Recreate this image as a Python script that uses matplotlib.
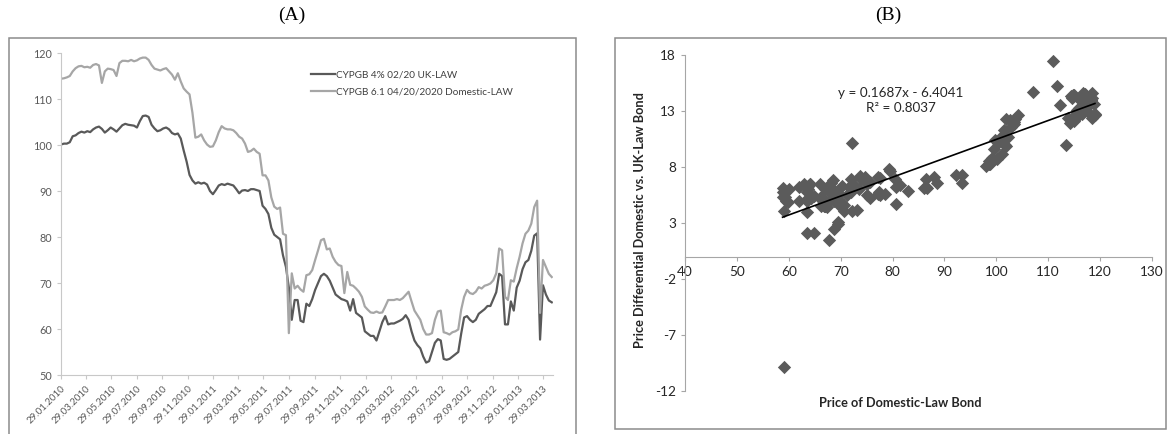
"""
Cyprus government bonds: UK-law vs domestic-law prices (A)
and the price differential against the domestic-law price (B).
"""

import matplotlib.pyplot as plt
import matplotlib.dates as mdates
import numpy as np
import pandas as pd
from matplotlib.patches import Rectangle

plt.rcParams["font.family"] = ["Lato", "DejaVu Sans"]
plt.rcParams["axes.unicode_minus"] = False

# weekly observations (Fridays), first one 29.01.2010
start_date = "2010-01-29"

uk_law = [
    100.1, 100.3, 100.3, 100.6, 101.9, 102.1, 102.6, 102.9, 102.7, 103.0,
    102.8, 103.4, 103.8, 104.0, 103.5, 102.7, 103.2, 103.8, 103.4, 102.9,
    103.6, 104.3, 104.6, 104.4, 104.3, 104.2, 103.8, 105.2, 106.3, 106.4,
    106.1, 104.4, 103.6, 103.0, 103.2, 103.6, 103.8, 103.4, 102.6, 102.3,
    102.5, 101.4, 98.8, 96.4, 93.5, 92.3, 91.6, 91.9, 91.6, 91.8,
    91.4, 90.0, 89.3, 90.2, 91.2, 91.5, 91.3, 91.6, 91.4, 91.2,
    90.4, 89.5, 90.1, 90.2, 90.0, 90.4, 90.4, 90.2, 90.0, 86.8,
    86.1, 85.0, 82.0, 80.5, 80.0, 79.5, 76.0, 73.5, 69.0, 62.0,
    66.3, 66.3, 61.8, 61.5, 65.5, 65.0, 66.5, 68.5, 70.0, 71.5,
    72.0, 71.5, 70.5, 69.0, 67.5, 67.0, 66.5, 66.3, 66.0, 64.0,
    66.5, 63.5, 63.0, 62.5, 59.5, 59.0, 58.5, 58.5, 57.5, 59.5,
    61.5, 62.8, 61.0, 61.2, 61.2, 61.5, 61.8, 62.2, 63.0, 62.0,
    59.5, 57.5, 56.5, 55.8, 54.0, 52.7, 53.0, 55.0, 57.0, 57.8,
    57.5, 53.5, 53.3, 53.5, 54.0, 54.5, 55.0, 59.0, 62.5, 62.8,
    62.0, 61.5, 62.0, 63.3, 63.8, 64.3, 65.0, 65.0, 66.5, 68.0,
    72.0, 71.5, 61.0, 61.0, 66.0, 64.0, 69.0, 70.5, 73.0, 74.5,
    75.0, 77.0, 80.3, 80.8, 57.7, 69.5, 67.5, 66.2, 65.8,
]

domestic_law = [
    114.4, 114.5, 114.7, 115.0, 116.0, 116.7, 117.1, 117.2, 116.9, 117.0,
    116.8, 117.4, 117.6, 117.3, 113.5, 116.0, 116.6, 116.5, 116.3, 115.0,
    117.8, 118.3, 118.3, 118.2, 118.5, 118.2, 118.4, 118.8, 119.0, 119.0,
    118.5, 117.4, 116.6, 116.4, 116.2, 116.5, 116.7, 116.0, 115.3, 114.2,
    115.6, 113.8, 112.3, 111.6, 111.0, 107.0, 101.6, 101.8, 102.3, 101.0,
    100.1, 99.6, 99.7, 101.0, 102.8, 104.1, 103.6, 103.4, 103.4, 103.2,
    102.6, 101.8, 101.4, 100.3, 98.5, 98.7, 99.2, 98.5, 98.1, 93.4,
    93.4, 92.3, 88.6, 86.6, 86.1, 86.4, 80.7, 80.4, 59.1, 72.1,
    68.8, 69.4, 68.6, 68.1, 71.7, 71.9, 72.8, 75.0, 77.1, 79.3,
    79.6, 77.3, 77.5, 75.7, 74.6, 73.9, 73.7, 67.8, 72.4, 69.6,
    69.4, 68.8, 68.1, 67.0, 64.9, 64.2, 63.6, 63.5, 63.8, 63.5,
    63.6, 64.9, 66.3, 66.3, 66.3, 66.5, 66.3, 66.7, 67.4, 68.1,
    66.0, 64.0, 63.0, 62.0, 60.0, 58.8, 58.8, 59.1, 62.0, 63.8,
    64.0, 59.3, 59.1, 58.8, 59.3, 59.5, 59.9, 64.2, 67.0, 68.5,
    67.8, 67.6, 68.1, 69.1, 68.8, 69.4, 69.6, 69.9, 70.6, 72.1,
    77.5, 77.1, 67.0, 66.3, 70.6, 70.3, 73.2, 75.7, 78.6, 80.7,
    81.4, 82.9, 86.5, 87.9, 63.5, 75.0, 73.5, 72.0, 71.3,
]

uk_label = "CYPGB 4% 02/20 UK-LAW"
domestic_label = "CYPGB 6.1 04/20/2020 Domestic-LAW"

# trend line reported on panel B
slope = 0.1687
intercept = -6.4041
r_squared = 0.8037

W, H = 1168, 434


def px_rect(fig, x0, y0, x1, y1):
    """Frame drawn in figure pixels (origin top-left)."""
    fig.patches.append(
        Rectangle((x0 / W, 1 - y1 / H), (x1 - x0) / W, (y1 - y0) / H,
                  transform=fig.transFigure, fill=False,
                  edgecolor="#8c8c8c", linewidth=1.1)
    )


fig = plt.figure(figsize=(W / 100, H / 100), dpi=100)

px_rect(fig, 9, 38, 576, 445)
px_rect(fig, 615, 38, 1166, 429)

fig.text(292 / W, 1 - 15 / H, "(A)", ha="center", va="center",
         family="Liberation Serif", fontsize=14)
fig.text(888 / W, 1 - 15 / H, "(B)", ha="center", va="center",
         family="Liberation Serif", fontsize=14)

# ---- panel A: price history
dates = pd.date_range(start_date, periods=len(uk_law), freq="7D")

ax1 = fig.add_axes([61 / W, 1 - 375 / H, (553 - 61) / W, (375 - 53) / H])
ax1.plot(dates, uk_law, color="#595959", linewidth=1.6, label=uk_label)
ax1.plot(dates, domestic_law, color="#a6a6a6", linewidth=1.6,
         label=domestic_label)

ax1.set_ylim(50, 120)
ax1.set_yticks(np.arange(50, 121, 10))
ax1.set_xlim(pd.Timestamp("2010-01-29"), pd.Timestamp("2013-04-22"))
ax1.xaxis.set_major_locator(mdates.MonthLocator(bymonth=[1, 3, 5, 7, 9, 11],
                                                bymonthday=29))
ax1.xaxis.set_major_formatter(mdates.DateFormatter("%d.%m.%Y"))
plt.setp(ax1.get_xticklabels(), rotation=45, ha="right",
         rotation_mode="anchor")
ax1.tick_params(axis="x", labelsize=7, colors="#595959", length=3, width=0.8)
ax1.tick_params(axis="y", labelsize=7.8, colors="#595959", length=3,
                width=0.8)
ax1.tick_params(axis="both", color="#c8c8c8")
for side in ("top", "right"):
    ax1.spines[side].set_visible(False)
for side in ("left", "bottom"):
    ax1.spines[side].set_color("#c8c8c8")
ax1.legend(loc="upper left", bbox_to_anchor=(0.49, 0.975), frameon=False,
           fontsize=7.2, handlelength=2.4, handletextpad=0.1,
           labelspacing=0.8, labelcolor="#404040")

# ---- panel B: differential vs domestic-law price
dom = np.array(domestic_law)
diff = dom - np.array(uk_law)

ax2 = fig.add_axes([685 / W, 1 - 391 / H, (1152 - 685) / W, (391 - 55) / H])
ax2.scatter(dom, diff, marker="D", s=46, color="#5b5b5b", linewidths=0,
            zorder=2)
xs = np.array([dom.min(), dom.max()])
ax2.plot(xs, slope * xs + intercept, color="black", linewidth=1.2, zorder=3)

ax2.set_xlim(40, 130)
ax2.set_ylim(-12, 18)
ax2.set_xticks(np.arange(40, 131, 10))
ax2.set_yticks(np.arange(-12, 19, 5))
ax2.spines["bottom"].set_position(("data", 0))
for side in ("top", "right"):
    ax2.spines[side].set_visible(False)
for side in ("left", "bottom"):
    ax2.spines[side].set_color("#a6a6a6")
ax2.tick_params(axis="both", labelsize=9.8, colors="#262626", length=3,
                width=0.8)
ax2.tick_params(axis="both", color="#a6a6a6")

ax2.text(0.462, 0.887, f"y = {slope}x - {abs(intercept)}",
         transform=ax2.transAxes, ha="center", va="center", fontsize=9.7,
         color="#262626")
ax2.text(0.462, 0.842, f"R² = {r_squared}", transform=ax2.transAxes,
         ha="center", va="center", fontsize=9.7, color="#262626")

fig.text(640 / W, 1 - 220 / H, "Price Differential Domestic vs. UK-Law Bond",
         rotation=90, ha="center", va="center", fontsize=9.2,
         fontweight="bold", color="#262626")
fig.text(900 / W, 1 - 403 / H, "Price of Domestic-Law Bond", ha="center",
         va="center", fontsize=9.2, fontweight="bold", color="#262626")

fig.savefig("out.png", dpi=100)
